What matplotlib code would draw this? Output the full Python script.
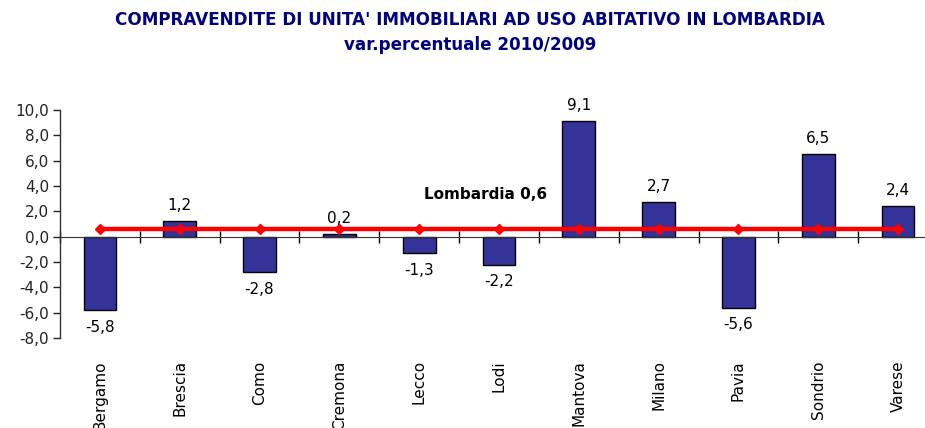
import matplotlib
matplotlib.use("Agg")
import matplotlib.pyplot as plt
import numpy as np

provinces = ["Bergamo", "Brescia", "Como", "Cremona", "Lecco", "Lodi",
             "Mantova", "Milano", "Pavia", "Sondrio", "Varese"]
values = [-5.8, 1.2, -2.8, 0.2, -1.3, -2.2, 9.1, 2.7, -5.6, 6.5, 2.4]
lombardia = 0.6
yticks = [-8, -6, -4, -2, 0, 2, 4, 6, 8, 10]

plt.rcParams['font.family'] = ['DejaVu Sans']

fig = plt.figure(figsize=(9.25, 4.28), dpi=100)
ax = fig.add_axes([60/925, 90/428, 878/925, 228/428])

x = np.arange(len(provinces))
ax.bar(x, values, width=0.41, color="#333399", edgecolor="black", linewidth=1, zorder=2)
ax.plot(x, [lombardia]*len(x), color="#ff0000", linewidth=3.2, marker="D",
        markersize=5, zorder=3)

for xi, v in zip(x, values):
    lab = f"{v:.1f}".replace(".", ",")
    if v >= 0:
        ax.annotate(lab, (xi, v), xytext=(0, 6), textcoords="offset points",
                    ha="center", va="bottom", fontsize=11)
    else:
        ax.annotate(lab, (xi, v), xytext=(0, -7), textcoords="offset points",
                    ha="center", va="top", fontsize=11)

ax.text(4.83, 3.3, f"Lombardia {lombardia:.1f}".replace(".", ","), ha="center",
        va="center", fontsize=11, fontweight="bold")

ax.set_xlim(-0.5, len(x) - 0.5)
ax.set_ylim(-8, 10)
ax.set_yticks(yticks)
ax.set_yticklabels([f"{t:.1f}".replace(".", ",") for t in yticks], fontsize=11)
ax.tick_params(axis="y", direction="out", length=5, width=1, pad=3, colors="#222222")

for s in ["top", "right"]:
    ax.spines[s].set_visible(False)
ax.spines["bottom"].set_position(("data", 0))
ax.spines["left"].set_linewidth(1)
ax.spines["left"].set_color("#333333")
ax.spines["bottom"].set_color("#333333")

ax.set_xticks(x)
ax.set_xticklabels(provinces, rotation=90, fontsize=11, va="top")
ax.set_xticks(np.arange(len(x) + 1) - 0.5, minor=True)
ax.tick_params(axis="x", which="major", length=0, pad=89)
ax.tick_params(axis="x", which="minor", direction="inout", length=9, width=1)

fig.text(0.508, 0.953, "COMPRAVENDITE DI UNITA' IMMOBILIARI AD USO ABITATIVO IN LOMBARDIA",
         ha="center", va="center", fontsize=12.1, fontweight="bold", color="#000080")
fig.text(0.508, 0.895, "var.percentuale 2010/2009", ha="center", va="center",
         fontsize=12.1, fontweight="bold", color="#000080")

fig.savefig("out.png", dpi=100)
